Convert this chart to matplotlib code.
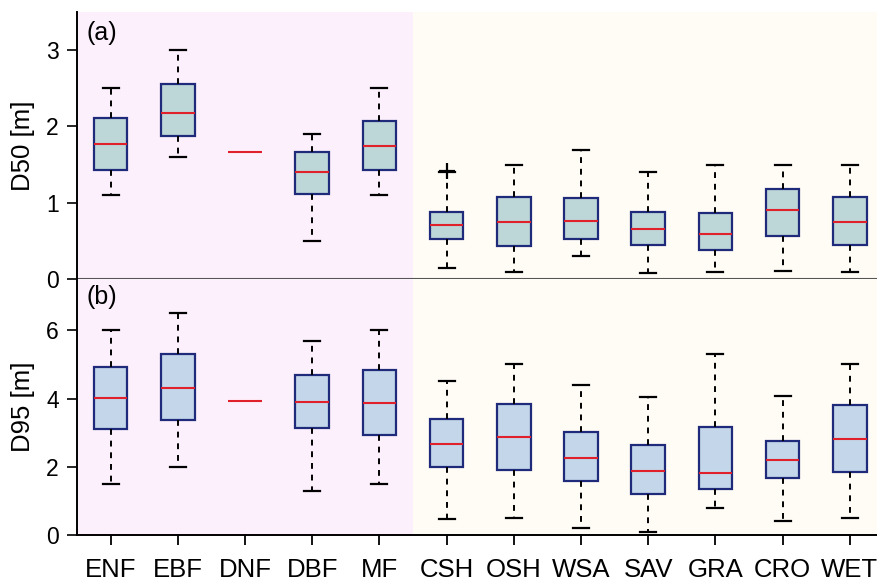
import matplotlib
matplotlib.use("Agg")
import matplotlib.pyplot as plt

plt.rcParams['font.family'] = ['Liberation Sans', 'DejaVu Sans']

categories = ["ENF", "EBF", "DNF", "DBF", "MF", "CSH", "OSH", "WSA", "SAV", "GRA", "CRO", "WET"]

# D50 [m] box statistics
d50_whislo = [1.10, 1.60, 1.67, 0.50, 1.10, 0.15, 0.09, 0.30, 0.08, 0.09, 0.10, 0.09]
d50_q1     = [1.435, 1.87, 1.67, 1.11, 1.435, 0.525, 0.435, 0.525, 0.445, 0.375, 0.57, 0.445]
d50_med    = [1.77, 2.18, 1.67, 1.40, 1.745, 0.705, 0.753, 0.76, 0.656, 0.596, 0.898, 0.753]
d50_q3     = [2.11, 2.55, 1.67, 1.66, 2.07, 0.884, 1.077, 1.06, 0.884, 0.866, 1.18, 1.072]
d50_whishi = [2.50, 3.00, 1.67, 1.90, 2.50, 1.40, 1.50, 1.69, 1.40, 1.50, 1.50, 1.50]
d50_fliers = [[], [], [], [], [], [1.42], [], [], [], [], [], []]

# D95 [m] box statistics
d95_whislo = [1.50, 2.01, 3.94, 1.30, 1.50, 0.47, 0.50, 0.20, 0.10, 0.80, 0.41, 0.50]
d95_q1     = [3.10, 3.38, 3.94, 3.14, 2.93, 2.01, 1.92, 1.58, 1.22, 1.36, 1.67, 1.86]
d95_med    = [4.01, 4.32, 3.94, 3.89, 3.86, 2.67, 2.89, 2.25, 1.88, 1.83, 2.20, 2.82]
d95_q3     = [4.92, 5.31, 3.94, 4.70, 4.85, 3.41, 3.85, 3.03, 2.63, 3.16, 2.76, 3.81]
d95_whishi = [6.00, 6.50, 3.94, 5.69, 6.00, 4.51, 5.00, 4.40, 4.04, 5.31, 4.07, 5.00]
d95_fliers = [[] for _ in categories]

W, H = 877, 581
fig = plt.figure(figsize=(W / 100, H / 100), dpi=100)
left = 77 / W
width = (12 * 67.2) / W
ax1 = fig.add_axes([left, (H - 279) / H, width, (279 - 12) / H])
ax2 = fig.add_axes([left, (H - 535.3) / H, width, (535.3 - 279) / H])

edge = '#1F2A7A'
red = '#E0202A'
bg_left = '#FCF0FC'
bg_right = '#FFFBF5'


def make_stats(lo, q1, med, q3, hi, fl):
    return [dict(whislo=a, q1=b, med=c, q3=d, whishi=e, fliers=f, label=n)
            for a, b, c, d, e, f, n in zip(lo, q1, med, q3, hi, fl, categories)]


def draw(ax, stats, fill, ymax, yticks, ylabel, tag, tag_y):
    ax.set_xlim(0.5, 12.5)
    ax.set_ylim(0, ymax)
    ax.axvspan(0.5, 5.5, color=bg_left, zorder=0, lw=0)
    ax.axvspan(5.5, 12.5, color=bg_right, zorder=0, lw=0)
    positions = list(range(1, len(categories) + 1))
    art = ax.bxp(stats, positions=positions, widths=0.5, patch_artist=True,
                 boxprops=dict(facecolor=fill, edgecolor=edge, linewidth=1.6),
                 medianprops=dict(color=red, linewidth=1.5),
                 whiskerprops=dict(color='black', linestyle=(0, (3.0, 3.0)), linewidth=1.4),
                 capprops=dict(color='black', linewidth=1.6),
                 capwidths=0.24,
                 flierprops=dict(marker='+', markeredgecolor='black', markersize=11, markeredgewidth=1.6),
                 zorder=3)
    # degenerate boxes (all values equal) show only the median line
    for i, s in enumerate(stats):
        if s['q1'] == s['q3'] == s['whislo'] == s['whishi']:
            art['boxes'][i].set_visible(False)
            for k in (2 * i, 2 * i + 1):
                art['whiskers'][k].set_visible(False)
                art['caps'][k].set_visible(False)
    ax.set_yticks(yticks)
    ax.set_yticklabels([str(t) for t in yticks])
    ax.tick_params(axis='y', direction='out', length=7, width=1.2, labelsize=16.5, pad=6)
    ax.set_ylabel(ylabel, fontsize=18.5)
    ax.yaxis.set_label_coords(-0.052, 0.5)
    ax.spines['top'].set_visible(False)
    ax.spines['right'].set_visible(False)
    ax.text(0.64, tag_y, tag, fontsize=18, ha='left', va='center')


draw(ax1, make_stats(d50_whislo, d50_q1, d50_med, d50_q3, d50_whishi, d50_fliers),
     '#BDD6D8', 3.5, [0, 1, 2, 3], 'D50 [m]', '(a)', 3.22)
draw(ax2, make_stats(d95_whislo, d95_q1, d95_med, d95_q3, d95_whishi, d95_fliers),
     '#C3D6EA', 7.5, [0, 2, 4, 6], 'D95 [m]', '(b)', 6.97)

ax1.set_xticks([])
ax1.spines['bottom'].set_color('#555555')
ax1.spines['bottom'].set_linewidth(1.5)
ax1.spines['left'].set_linewidth(1.4)

ax2.set_xticks(range(1, len(categories) + 1))
ax2.set_xticklabels(categories)
ax2.tick_params(axis='x', direction='out', length=7, width=1.3, labelsize=18.5, pad=9)
ax2.spines['left'].set_linewidth(1.4)
ax2.spines['bottom'].set_linewidth(1.4)

fig.savefig('out.png', dpi=100)
